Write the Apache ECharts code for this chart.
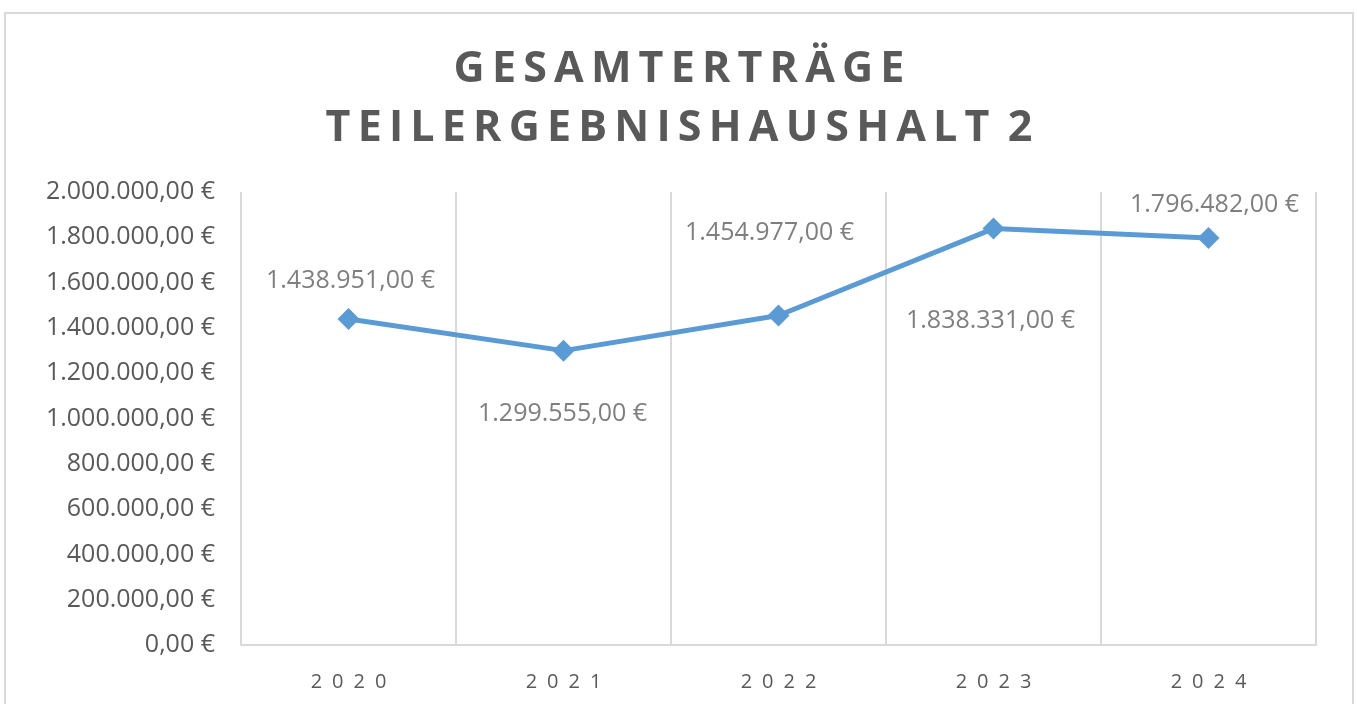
<!DOCTYPE html>
<html>
<head>
<meta charset="utf-8">
<script src="https://cdn.jsdelivr.net/npm/echarts@6/dist/echarts.min.js"></script>
<style>
  html, body { margin: 0; padding: 0; background: #fff; }
  #chart { width: 1358px; height: 704px; }
</style>
</head>
<body>
<div id="chart"></div>
<script>
// Daten
var years = ['2020', '2021', '2022', '2023', '2024'];
var ertraege = [1438951, 1299555, 1454977, 1838331, 1796482];
var titleLines = ['GESAMTERTRÄGE', 'TEILERGEBNISHAUSHALT 2'];

// Label-Versatz je Punkt (wie im Original verteilt)
var labelOffsets = [[2, -38], [-1, 63], [-9, -83], [-3, 92], [6, -33]];

// Sperrschrift: zwischen Buchstaben schmale Leerzeichen
function spaced(str, sep) {
    return str.split(' ').map(function (w) { return w.split('').join(sep); }).join(sep + ' ');
}

function euro(v) {
    var parts = v.toFixed(2).split('.');
    var int = parts[0].replace(/\B(?=(\d{3})+(?!\d))/g, '.');
    return int + ',' + parts[1] + ' €';
}

var chart = echarts.init(document.getElementById('chart'));

var option = {
    backgroundColor: '#ffffff',
    animation: false,
    graphic: [{
        type: 'rect',
        shape: { x: 5, y: 13, width: 1348, height: 720 },
        style: { fill: 'none', stroke: '#d9d9d9', lineWidth: 2 },
        silent: true
    }],
    title: {
        text: titleLines.map(function (t) { return spaced(t, '\u2006'); }).join('\n'),
        left: 'center',
        top: 35,
        textStyle: {
            fontFamily: 'Open Sans',
            fontWeight: 'bold',
            fontSize: 43,
            lineHeight: 59,
            color: '#595959'
        }
    },
    grid: { left: 241, right: 42, top: 192, bottom: 59 },
    xAxis: {
        type: 'category',
        data: years,
        boundaryGap: true,
        axisLine: { lineStyle: { color: '#d9d9d9', width: 2 } },
        axisTick: { show: false },
        axisLabel: {
            margin: 27,
            fontFamily: 'Open Sans',
            fontSize: 20,
            color: '#595959',
            formatter: function (v) { return v.split('').join('\u2002'); }
        },
        splitLine: { show: true, lineStyle: { color: '#d9d9d9', width: 2 } }
    },
    yAxis: {
        type: 'value',
        min: 0,
        max: 2000000,
        interval: 200000,
        axisLine: { show: false },
        axisTick: { show: false },
        splitLine: { show: false },
        axisLabel: {
            margin: 26,
            fontFamily: 'Open Sans',
            fontSize: 25,
            color: '#595959',
            formatter: euro
        }
    },
    series: [{
        name: 'Gesamterträge',
        type: 'line',
        data: ertraege.map(function (v, i) {
            return {
                value: v,
                label: { offset: labelOffsets[i] }
            };
        }),
        symbol: 'diamond',
        symbolSize: 22,
        lineStyle: { color: '#5b9bd5', width: 5 },
        itemStyle: { color: '#5b9bd5' },
        label: {
            show: true,
            position: 'inside',
            align: 'center',
            verticalAlign: 'middle',
            fontFamily: 'Open Sans',
            fontSize: 25,
            color: '#7f7f7f',
            formatter: function (p) { return euro(p.value); }
        }
    }]
};

chart.setOption(option);
</script>
</body>
</html>
